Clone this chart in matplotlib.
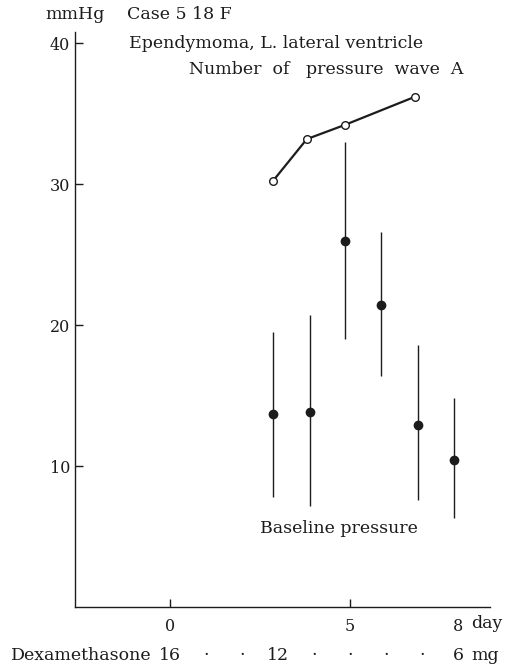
import matplotlib

matplotlib.use('Agg')

import matplotlib.pyplot as plt
import numpy as np

plt.rcParams['font.family'] = ['DejaVu Serif']

# number of pressure wave A (open circles)
wave_days = [2.85, 3.8, 4.85, 6.8]
wave_count = [30.2, 33.2, 34.2, 36.2]

# baseline pressure: mean with range
base_days = [2.87, 3.9, 4.85, 5.86, 6.9, 7.9]
base_mean = [13.7, 13.8, 26.0, 21.4, 12.9, 10.4]
base_low = [7.8, 7.2, 19.0, 16.4, 7.6, 6.3]
base_high = [19.5, 20.7, 33.0, 26.6, 18.6, 14.85]

x_ticks = [0, 5, 8]
y_ticks = [10, 20, 30, 40]

# dexamethasone dose row under the x axis
dose_days = [0, 1, 2, 3, 4, 5, 6, 7, 8]
dose_labels = ['16', '·', '·', '12', '·', '·', '·', '·', '6']

ink = '#1c1c1c'
fs = 12.5

fig = plt.figure(figsize=(5.17, 6.66), dpi=100)
ax = fig.add_axes([0.145, 0.0886, 0.948 - 0.145, 0.952 - 0.0886])

ax.plot(wave_days, wave_count, color=ink, lw=1.6, marker='o', ms=5.5,
        mfc='white', mec=ink, mew=1.0, zorder=3)

mean = np.array(base_mean)
yerr = [mean - np.array(base_low), np.array(base_high) - mean]
ax.errorbar(base_days, base_mean, yerr=yerr, fmt='o', color=ink, ms=6,
            elinewidth=1.0, capsize=0, zorder=3)

ax.set_xlim(-2.64, 8.89)
ax.set_ylim(0, 40.8)
ax.set_xticks(x_ticks)
ax.set_xticklabels([str(t) for t in x_ticks])
ax.set_yticks(y_ticks)
ax.spines['top'].set_visible(False)
ax.spines['right'].set_visible(False)
for s in ('left', 'bottom'):
    ax.spines[s].set_color(ink)
    ax.spines[s].set_linewidth(1.0)
ax.tick_params(direction='in', length=6, width=1.0, color=ink,
               labelsize=11.5, labelcolor=ink)
ax.tick_params(axis='x', pad=8)
# no tick mark at day 8, only the label
ax.xaxis.get_major_ticks()[2].tick1line.set_visible(False)

tr = ax.get_xaxis_transform()
ax.text(8.36, -0.029, 'day', transform=tr, ha='left', va='center',
        fontsize=fs, color=ink, clip_on=False)
for d, lab in zip(dose_days, dose_labels):
    ax.text(d, -0.0835, lab, transform=tr, ha='center', va='center',
            fontsize=fs, color=ink, clip_on=False)
ax.text(-0.5, -0.0835, 'Dexamethasone', transform=tr, ha='right', va='center',
        fontsize=fs, color=ink, clip_on=False)
ax.text(8.36, -0.0835, 'mg', transform=tr, ha='left', va='center',
        fontsize=fs, color=ink, clip_on=False)

fig.text(0.087, 0.9775, 'mmHg', ha='left', va='center', fontsize=fs, color=ink)
fig.text(0.2456, 0.9775, 'Case 5 18 F', ha='left', va='center', fontsize=fs, color=ink)
fig.text(0.2495, 0.9354, 'Ependymoma, L. lateral ventricle', ha='left', va='center',
         fontsize=fs, color=ink)
fig.text(0.3656, 0.895, 'Number  of   pressure  wave  A', ha='left', va='center',
         fontsize=fs, color=ink)
ax.text(2.5, 5.6, 'Baseline pressure', ha='left', va='center', fontsize=fs,
        color=ink)

fig.savefig('out.png', dpi=100)
plt.close()
